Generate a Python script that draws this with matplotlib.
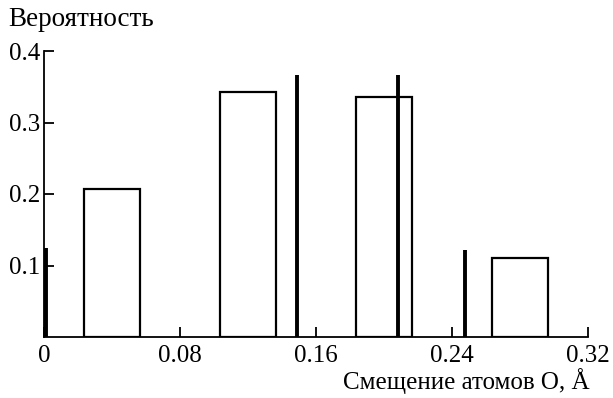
import matplotlib
matplotlib.use("Agg")
import matplotlib.pyplot as plt

plt.rcParams['font.family'] = ['Liberation Serif', 'DejaVu Serif']

bar_centers = [0.04, 0.12, 0.20, 0.28]
bar_heights = [0.207, 0.343, 0.336, 0.111]
bar_width = 0.033
line_x = [0.001, 0.149, 0.208, 0.2475]
line_heights = [0.124, 0.366, 0.367, 0.121]
x_ticks = [0, 0.08, 0.16, 0.24, 0.32]
x_labels = ["0", "0.08", "0.16", "0.24", "0.32"]
y_ticks = [0.1, 0.2, 0.3, 0.4]
y_labels = ["0.1", "0.2", "0.3", "0.4"]

W, H = 613, 398
fig = plt.figure(figsize=(W / 100, H / 100), dpi=100)
ax = fig.add_axes([44 / W, (H - 337) / H, 544 / W, (337 - 51) / H])

ax.bar(bar_centers, bar_heights, width=bar_width, facecolor='white',
       edgecolor='black', linewidth=1.6, zorder=2)
ax.vlines(line_x, 0, line_heights, colors='black', linewidth=2.8,
          zorder=3, clip_on=False)

ax.set_xlim(0, 0.32)
ax.set_ylim(0, 0.4)
ax.spines['top'].set_visible(False)
ax.spines['right'].set_visible(False)
for s in ('left', 'bottom'):
    ax.spines[s].set_linewidth(1.3)

ax.set_xticks(x_ticks)
ax.set_xticklabels(x_labels)
ax.set_yticks(y_ticks)
ax.set_yticklabels(y_labels)
ax.tick_params(direction='in', length=7, width=1.3, labelsize=18, pad=6)
ax.tick_params(axis='y', pad=3)

fig.text(8 / W, 1 - 7 / H, "Вероятность", ha='left', va='top', fontsize=19.5)
fig.text(590 / W, 4 / H, "Смещение атомов О, Å", ha='right', va='bottom', fontsize=18)

fig.savefig("out.png", dpi=100)
